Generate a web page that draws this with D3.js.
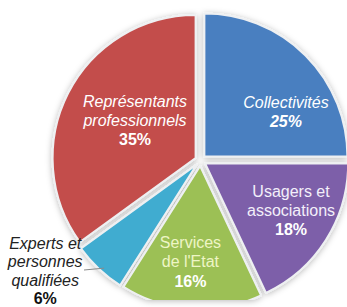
<!DOCTYPE html>
<html><head><meta charset="utf-8">
<script src="https://cdn.jsdelivr.net/npm/d3@7"></script>
<style>html,body{margin:0;padding:0;background:#fff}svg{display:block}</style>
</head><body><svg id="c" width="347" height="307"></svg>
<script>
// ---- data ----
const categories = ["Collectivités", "Usagers et associations", "Services de l'Etat", "Experts et personnes qualifiées", "Représentants professionnels"];
const values = [25, 18, 16, 6, 35];
const labelLines = [["Collectivités"], ["Usagers et", "associations"], ["Services", "de l'Etat"], ["Experts et", "personnes", "qualifiées"], ["Représentants", "professionnels"]];
const colors = ["#4a7fc0", "#7d5fa9", "#9cc054", "#40acd0", "#c34d4b"];

// ---- layout / style ----
const W = 347, H = 307, cx = 200.5, cy = 160.5, R = 143, explode = 5.5;
const labelPlacement = [[60.2, 98.5], [118.9, 103.4], [185.7, 101.5], [234.6, 190.5], [301.4, 76.7]]; // [deg, px]
const lineHeights = [19, 19, 19.5, 18.6, 19];
const nameItalic = [true, false, false, true, true];
const pctItalic = [true, false, false, false, false];
const nameColor = ["#ffffff", "#f3effa", "#eef5c6", "#222222", "#ffffff"];
const pctColor = ["#ffffff", "#ffffff", "#ffffff", "#111111", "#ffffff"];

const svg = d3.select("#c");
const defs = svg.append("defs");
const f = defs.append("filter").attr("id", "sh").attr("x", "-15%").attr("y", "-15%").attr("width", "130%").attr("height", "130%");
f.append("feDropShadow").attr("dx", 0).attr("dy", 1).attr("stdDeviation", 3).attr("flood-color", "#000").attr("flood-opacity", 0.28);
defs.append("clipPath").attr("id", "clip").append("rect").attr("x", 0).attr("y", 0).attr("width", W).attr("height", 300);

const pie = d3.pie().sort(null).value(d => d);
const arcs = pie(values);
const arc = d3.arc().innerRadius(0).outerRadius(R);
const rad = Math.PI / 180;

const gOuter = svg.append("g").attr("filter", "url(#sh)");
const gClip = gOuter.append("g").attr("clip-path", "url(#clip)");
const gPie = gClip.append("g").attr("transform", `translate(${cx},${cy})`);

function offset(a) {
  return d3.pointRadial((a.startAngle + a.endAngle) / 2, explode);
}

gPie.selectAll("path").data(arcs).join("path")
  .attr("d", arc)
  .attr("transform", d => { const o = offset(d); return `translate(${o[0]},${o[1]})`; })
  .attr("fill", (d, i) => colors[i])
  .attr("stroke", "#eef0f2")
  .attr("stroke-width", 2)
  .attr("stroke-linejoin", "round");

// leader line for the outside label (Experts)
{
  const i = 3, a = arcs[i], o = offset(a);
  const p = d3.pointRadial(221.8 * rad, R - 4);
  svg.append("line")
    .attr("x1", 84).attr("y1", 270)
    .attr("x2", cx + o[0] + p[0]).attr("y2", cy + o[1] + p[1])
    .attr("stroke", "#8a8a8a").attr("stroke-width", 1);
}

// labels
const gLab = svg.append("g").attr("font-family", "'Liberation Sans', Arial, sans-serif").attr("font-size", 16).attr("text-anchor", "middle");
arcs.forEach((a, i) => {
  const [deg, r] = labelPlacement[i];
  const p = d3.pointRadial(deg * rad, r);
  const x = cx + p[0], y = cy + p[1];
  const lh = lineHeights[i];
  const lines = labelLines[i].map(t => ({ t, pct: false })).concat([{ t: values[i] + "%", pct: true }]);
  const n = lines.length;
  const t = gLab.append("text").attr("x", x);
  lines.forEach((ln, k) => {
    t.append("tspan")
      .attr("x", x)
      .attr("y", y + (k - (n - 1) / 2) * lh + 5.7)
      .attr("font-weight", ln.pct ? "bold" : "normal")
      .attr("font-style", (ln.pct ? pctItalic[i] : nameItalic[i]) ? "italic" : "normal")
      .attr("fill", ln.pct ? pctColor[i] : nameColor[i])
      .text(ln.t);
  });
});
</script>
</body></html>
